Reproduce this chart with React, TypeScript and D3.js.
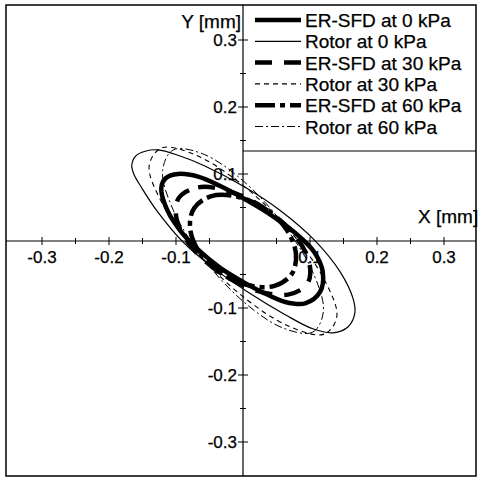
import * as d3 from "d3";
import { useEffect } from "react";

// orbit points, in mm
const erSfd0X = [-0.122, -0.115, -0.097, -0.067, -0.034, 0, 0.037, 0.078, 0.106, 0.119, 0.115, 0.093, 0.063, 0.028, 0, -0.034, -0.067, -0.094, -0.113];
const erSfd0Y = [0.079, 0.094, 0.1, 0.096, 0.082, 0.064, 0.042, 0.012, -0.016, -0.046, -0.076, -0.093, -0.091, -0.076, -0.061, -0.04, -0.013, 0.016, 0.046];

const rotor0X = [-0.166, -0.16, -0.146, -0.127, -0.097, -0.057, 0, 0.055, 0.107, 0.145, 0.164, 0.167, 0.157, 0.134, 0.104, 0.063, 0.01, -0.042, -0.091, -0.127, -0.151, -0.163];
const rotor0Y = [0.113, 0.127, 0.134, 0.136, 0.128, 0.112, 0.082, 0.046, 0.001, -0.046, -0.085, -0.107, -0.128, -0.137, -0.131, -0.11, -0.078, -0.042, 0, 0.043, 0.079, 0.1];

const erSfd30X = [-0.096, -0.067, -0.02, 0.033, 0.076, 0.099, 0.096, 0.067, 0.02, -0.033, -0.076, -0.099];
const erSfd30Y = [0.064, 0.08, 0.074, 0.048, 0.01, -0.032, -0.064, -0.08, -0.074, -0.048, -0.01, 0.032];

const rotor30X = [0.14, 0.121, 0.07, 0, -0.07, -0.121, -0.14, -0.121, -0.07, 0, 0.07, 0.121];
const rotor30Y = [-0.113, -0.139, -0.128, -0.083, -0.015, 0.057, 0.113, 0.139, 0.128, 0.083, 0.015, -0.057];

const erSfd60X = [-0.073, -0.047, -0.008, 0.033, 0.065, 0.079, 0.073, 0.047, 0.008, -0.033, -0.065, -0.079];
const erSfd60Y = [0.049, 0.067, 0.066, 0.048, 0.017, -0.019, -0.049, -0.067, -0.066, -0.048, -0.017, 0.019];

const rotor60X = [0.12, 0.104, 0.06, 0, -0.06, -0.104, -0.12, -0.104, -0.06, 0, 0.06, 0.104];
const rotor60Y = [-0.105, -0.136, -0.13, -0.09, -0.025, 0.046, 0.105, 0.136, 0.13, 0.09, 0.025, -0.046];

const seriesNames = [
  "ER-SFD at 0 kPa",
  "Rotor at 0 kPa",
  "ER-SFD at 30 kPa",
  "Rotor at 30 kPa",
  "ER-SFD at 60 kPa",
  "Rotor at 60 kPa",
];

const majorTicks = [-0.3, -0.2, -0.1, 0.1, 0.2, 0.3];
const tickLabels = ["-0.3", "-0.2", "-0.1", "0.1", "0.2", "0.3"];
const minorTicks = [-0.25, -0.15, -0.05, 0.05, 0.15, 0.25];

const styles = [
  { w: 4.5, dash: "" },
  { w: 1.2, dash: "" },
  { w: 4.5, dash: "17 12" },
  { w: 1.1, dash: "5 4" },
  { w: 4.5, dash: "20 5 5 5" },
  { w: 1, dash: "8 3 2 3" },
];

const FONT = "'Liberation Sans', Arial, sans-serif";

export default function App() {
  useEffect(() => {
    document.body.style.margin = "0";
  }, []);

  const x = d3.scaleLinear().domain([-0.3, 0.3]).range([42, 444]);
  const y = d3.scaleLinear().domain([-0.3, 0.3]).range([442, 40]);

  const orbit = d3
    .line<[number, number]>()
    .x((d) => x(d[0]))
    .y((d) => y(d[1]))
    .curve(d3.curveCatmullRomClosed.alpha(0.5));

  const pairs = (xs: number[], ys: number[]) =>
    xs.map((v, i) => [v, ys[i]] as [number, number]);

  const curves = [
    pairs(erSfd0X, erSfd0Y),
    pairs(rotor0X, rotor0Y),
    pairs(erSfd30X, erSfd30Y),
    pairs(rotor30X, rotor30Y),
    pairs(erSfd60X, erSfd60Y),
    pairs(rotor60X, rotor60Y),
  ];

  const x0 = x(0);
  const y0 = y(0);

  return (
    <svg width={478} height={478} style={{ display: "block", background: "#fff" }}>
      <rect x={6} y={5} width={470} height={471} fill="#fff" stroke="#000" strokeWidth={1.5} />

      {/* axes */}
      <line x1={6} x2={476} y1={y0} y2={y0} stroke="#000" strokeWidth={1.2} />
      <line x1={x0} x2={x0} y1={5} y2={476} stroke="#000" strokeWidth={1.2} />
      {majorTicks.map((t) => (
        <g key={"mx" + t}>
          <line x1={x(t)} x2={x(t)} y1={y0 - 4} y2={y0 + 4} stroke="#000" strokeWidth={1} />
          <line x1={x0 - 5} x2={x0 + 5} y1={y(t)} y2={y(t)} stroke="#000" strokeWidth={1} />
        </g>
      ))}
      {minorTicks.map((t) => (
        <g key={"mn" + t}>
          <line x1={x(t)} x2={x(t)} y1={y0 - 3} y2={y0 + 3} stroke="#000" strokeWidth={1} />
          <line x1={x0 - 3} x2={x0 + 3} y1={y(t)} y2={y(t)} stroke="#000" strokeWidth={1} />
        </g>
      ))}
      <g fontFamily={FONT} fontSize={17} fill="#000" stroke="#000" strokeWidth={0.25}>
        {majorTicks.map((t, i) => (
          <text key={"lx" + t} x={x(t)} y={y0 + 22} textAnchor="middle">
            {tickLabels[i]}
          </text>
        ))}
        {majorTicks.map((t, i) => (
          <text key={"ly" + t} x={x0 - 6} y={y(t) + 6} textAnchor="end">
            {tickLabels[i]}
          </text>
        ))}
      </g>
      <g fontFamily={FONT} fontSize={19} fill="#000" stroke="#000" strokeWidth={0.25}>
        <text x={x0 - 2} y={28} textAnchor="end">Y [mm]</text>
        <text x={418} y={223}>X [mm]</text>
      </g>

      {/* orbits */}
      {curves.map((c, i) => (
        <path
          key={"c" + i}
          d={orbit(c) || ""}
          fill="none"
          stroke="#000"
          strokeWidth={styles[i].w}
          strokeDasharray={styles[i].dash || undefined}
          strokeLinejoin="round"
        />
      ))}

      {/* legend */}
      <line x1={x0} x2={476} y1={151} y2={151} stroke="#000" strokeWidth={1.2} />
      {seriesNames.map((name, i) => {
        const ly = 20 + i * 21.3;
        return (
          <g key={name}>
            <line
              x1={255}
              x2={301}
              y1={ly}
              y2={ly}
              stroke="#000"
              strokeWidth={styles[i].w}
              strokeDasharray={styles[i].dash || undefined}
            />
            <text
              x={305}
              y={ly + 7}
              fontFamily={FONT}
              fontSize={19}
              fill="#000"
              stroke="#000"
              strokeWidth={0.25}
            >
              {name}
            </text>
          </g>
        );
      })}
    </svg>
  );
}
